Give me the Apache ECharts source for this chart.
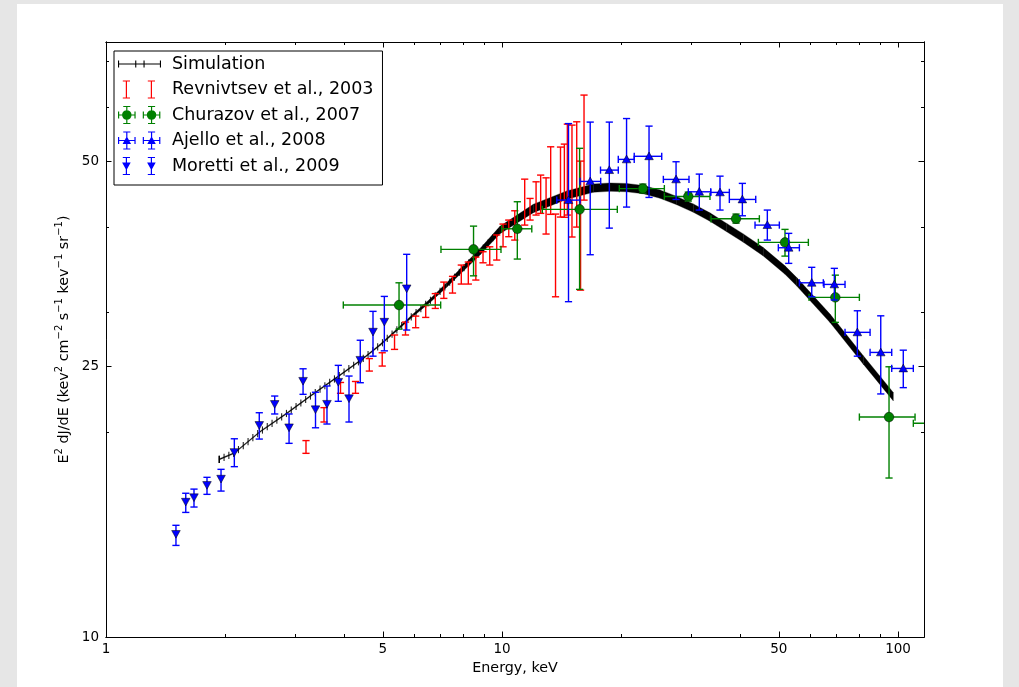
<!DOCTYPE html>
<html><head><meta charset="utf-8">
<script src="https://cdn.jsdelivr.net/npm/echarts@6/dist/echarts.min.js"></script>
<style>
html,body{margin:0;padding:0;background:#e6e6e6;width:1019px;height:687px;overflow:hidden}
#card{position:absolute;left:17px;top:4px;width:986px;height:683px;background:#fff}
#chart{width:986px;height:683px}
</style></head><body><div id="card"><div id="chart"></div></div>
<script>
// ---------------- data ----------------
const xTickMajor = [1, 5, 10, 50, 100];
const xTickMinor = [2, 3, 4, 6, 7, 8, 9, 20, 30, 40, 60, 70, 80, 90];
const xTickLabels = [1, 5, 10, 50, 100];
const yTickMajor = [10, 25, 50];
const yTickMinor = [20, 30, 40, 60, 70];
const yTickLabels = [10, 25, 50];

// Simulation curve
const simE = [1.932, 2.109, 2.448, 2.860, 3.338, 3.898, 4.463, 4.918, 5.422, 5.97, 6.579, 7.25, 7.985, 8.80,
  9.88, 12.0, 14.57, 17.0, 18.74, 20.65, 22.74, 25.06, 27.62, 30.42, 33.5, 36.93, 40.68, 45.68, 51.83, 55.5, 67.34, 81.73, 97.3];
const simF = [18.24, 18.63, 20.02, 21.31, 22.75, 24.25, 25.66, 26.85, 28.24, 29.71, 31.18, 32.88, 34.79, 36.80,
  39.6, 42.6, 44.57, 45.63, 45.79, 45.71, 45.40, 44.72, 43.75, 42.65, 41.38, 39.93, 38.54, 36.80, 34.59, 33.24, 29.38, 25.52, 22.54];

// Revnivtsev et al., 2003 (error bars only)
const revE  = [3.199, 3.552, 3.910, 4.266, 4.623, 4.983, 5.353, 5.705, 6.053, 6.417, 6.785, 7.129, 7.499, 7.892, 8.220, 8.588, 8.955, 9.311, 9.697, 10.06, 10.40, 10.77, 11.41, 11.77, 12.19, 12.52, 12.92, 13.27, 13.65, 14.05, 14.37, 14.62, 15.02, 15.44, 15.79, 16.11];
const revLo = [18.61, 20.69, 22.80, 22.80, 24.58, 25.00, 26.45, 27.77, 28.46, 29.47, 30.38, 31.43, 32.00, 32.99, 32.99, 33.44, 35.45, 35.18, 35.78, 37.42, 38.72, 38.28, 40.27, 40.96, 41.66, 41.90, 39.07, 41.76, 31.60, 41.38, 41.35, 41.66, 38.68, 40.00, 32.32, 43.82];
const revHi = [19.43, 21.72, 23.65, 23.73, 25.64, 26.15, 27.77, 29.01, 29.60, 30.67, 31.94, 33.21, 33.86, 35.18, 35.54, 36.14, 36.80, 37.42, 38.95, 40.41, 40.96, 42.27, 47.04, 44.07, 46.62, 47.69, 47.25, 52.48, 41.80, 52.43, 52.96, 56.66, 56.47, 57.11, 50.00, 62.51];

// Churazov et al., 2007
const chuE   = [5.495, 8.474, 10.93, 15.70, 22.68, 29.54, 38.99, 51.83, 69.45, 94.9, 131.4];
const chuF   = [30.73, 37.10, 39.77, 42.47, 45.56, 44.37, 41.14, 37.98, 31.54, 21.04, 20.60];
const chuElo = [3.974, 7.012, 9.98, 12.64, 19.78, 25.70, 33.71, 44.39, 59.61, 79.87, 109.3];
const chuEhi = [7.00, 9.94, 11.89, 19.55, 25.70, 33.51, 44.65, 59.37, 79.87, 110.4, 150];
const chuFlo = [28.33, 33.92, 35.90, 32.40, 44.87, 43.68, 40.54, 36.26, 28.98, 17.12, 17.6];
const chuFhi = [33.13, 40.13, 43.58, 52.21, 46.26, 45.02, 41.80, 39.69, 34.00, 24.94, 23.6];

// Ajello et al., 2008
const ajeE   = [14.72, 16.70, 18.66, 20.63, 23.51, 27.51, 31.49, 35.52, 40.45, 46.77, 52.96, 60.55, 69.05, 78.94, 90.44, 103.1];
const ajeF   = [43.82, 46.68, 48.50, 50.29, 50.82, 47.00, 45.07, 44.98, 43.92, 40.27, 37.30, 33.13, 32.95, 28.02, 26.18, 24.80];
const ajeElo = [13.75, 15.74, 17.73, 19.66, 21.57, 25.55, 29.54, 33.65, 37.50, 43.54, 49.86, 56.35, 65.03, 73.48, 85.00, 96.40];
const ajeEhi = [15.74, 17.75, 19.66, 21.57, 25.31, 29.66, 33.65, 37.50, 43.72, 50.15, 56.35, 64.76, 73.48, 85.00, 96.40, 109.3];
const ajeFlo = [31.08, 36.43, 39.86, 42.80, 44.22, 43.92, 42.37, 42.37, 41.56, 38.28, 35.38, 31.60, 31.26, 25.85, 22.75, 23.24];
const ajeFhi = [56.76, 57.05, 57.05, 57.74, 56.28, 49.89, 47.85, 47.52, 46.37, 42.37, 39.16, 34.91, 34.79, 30.14, 29.63, 26.38];

// Moretti et al., 2009
const morE   = [1.502, 1.590, 1.668, 1.799, 1.952, 2.109, 2.438, 2.667, 2.899, 3.145, 3.381, 3.614, 3.860, 4.108, 4.386, 4.723, 5.045, 5.745];
const morF   = [14.17, 15.80, 16.04, 16.72, 17.08, 18.69, 20.48, 21.99, 20.32, 23.78, 21.60, 22.00, 23.70, 22.42, 25.53, 28.08, 29.04, 32.51];
const morFlo = [13.63, 15.24, 15.52, 16.20, 16.38, 17.79, 19.53, 21.26, 19.25, 22.72, 20.29, 20.55, 22.19, 20.69, 23.63, 25.85, 26.32, 28.24];
const morFhi = [14.59, 16.26, 16.49, 17.16, 17.63, 19.55, 21.35, 22.59, 21.26, 24.77, 22.88, 23.37, 25.06, 24.17, 27.28, 30.08, 31.64, 36.48];

const X_MIN = 1, X_MAX = 116.3, Y_MIN = 10, Y_MAX = 74.8;

// ---------------- styles ----------------
const RED = '#ff0000', GREEN = '#008000', BLUE = '#0000ff', BLACK = '#000000';
const FONT = 'DejaVu Sans';
const CAP = 3.6, LW = 1.4;

function vbar(children, x, ya, yb, color) {
  const s = {stroke: color, lineWidth: LW};
  children.push({type: 'line', shape: {x1: x, y1: ya, x2: x, y2: yb}, style: s});
  children.push({type: 'line', shape: {x1: x - CAP, y1: ya, x2: x + CAP, y2: ya}, style: s});
  children.push({type: 'line', shape: {x1: x - CAP, y1: yb, x2: x + CAP, y2: yb}, style: s});
}
function hbar(children, y, xa, xb, color) {
  const s = {stroke: color, lineWidth: LW};
  children.push({type: 'line', shape: {x1: xa, y1: y, x2: xb, y2: y}, style: s});
  children.push({type: 'line', shape: {x1: xa, y1: y - CAP, x2: xa, y2: y + CAP}, style: s});
  children.push({type: 'line', shape: {x1: xb, y1: y - CAP, x2: xb, y2: y + CAP}, style: s});
}
function triPts(cx, cy, r, up) {
  const h = r;
  if (up) return [[cx, cy - h], [cx + r, cy + h * 0.8], [cx - r, cy + h * 0.8]];
  return [[cx, cy + h], [cx - r, cy - h * 0.8], [cx + r, cy - h * 0.8]];
}
const markerEdge = {stroke: '#000', lineWidth: 0.5};

// revnivtsev: [E, lo, hi]
function renderRev(params, api) {
  const a = api.coord([api.value(0), api.value(1)]);
  const b = api.coord([api.value(0), api.value(2)]);
  const ch = [];
  vbar(ch, a[0], a[1], b[1], RED);
  return {type: 'group', children: ch};
}
// full error bars: [E, F, Elo, Ehi, Flo, Fhi]
function makeFull(color, marker) {
  return function (params, api) {
    const E = api.value(0), F = api.value(1);
    const p = api.coord([E, F]);
    const ch = [];
    const l = api.coord([api.value(2), F]), r = api.coord([api.value(3), F]);
    const lo = api.coord([E, api.value(4)]), hi = api.coord([E, api.value(5)]);
    hbar(ch, p[1], l[0], r[0], color);
    vbar(ch, p[0], lo[1], hi[1], color);
    if (marker === 'circle') {
      ch.push({type: 'circle', shape: {cx: p[0], cy: p[1], r: 4.8}, style: Object.assign({fill: color}, markerEdge)});
    } else {
      ch.push({type: 'polygon', shape: {points: triPts(p[0], p[1], 4.3, true)}, style: Object.assign({fill: color}, markerEdge)});
    }
    return {type: 'group', children: ch};
  };
}
// moretti: [E, F, Flo, Fhi]
function renderMor(params, api) {
  const E = api.value(0), F = api.value(1);
  const p = api.coord([E, F]);
  const lo = api.coord([E, api.value(2)]), hi = api.coord([E, api.value(3)]);
  const ch = [];
  vbar(ch, p[0], lo[1], hi[1], BLUE);
  ch.push({type: 'polygon', shape: {points: triPts(p[0], p[1], 4.3, false)}, style: Object.assign({fill: BLUE}, markerEdge)});
  return {type: 'group', children: ch};
}
// simulation drawing style: half thickness of the band (px) vs energy (style table)
const bandStyleE = [1, 4.5, 5.5, 6.5, 7.5, 8.5, 10, 12, 200];
const bandStyleH = [0.6, 0.6, 1.0, 1.6, 2.4, 3.1, 3.8, 4.2, 4.2];
function bandHalf(E) {
  const l = Math.log(E);
  for (let k = 0; k < bandStyleE.length - 1; k++) {
    const a = Math.log(bandStyleE[k]), b = Math.log(bandStyleE[k + 1]);
    if (l <= b) return bandStyleH[k] + (bandStyleH[k + 1] - bandStyleH[k]) * (l - a) / (b - a);
  }
  return bandStyleH[bandStyleH.length - 1];
}
const TICK_STEP = 4.8, TICK_EMAX = 9.5;
function renderSim(params, api) {
  const i = params.dataIndex;
  const E = api.value(0);
  const p = api.coord([E, api.value(1)]);
  const ch = [];
  if (i === 0) {
    ch.push({type: 'line', shape: {x1: p[0], y1: p[1] - 3.6, x2: p[0], y2: p[1] + 3.6}, style: {stroke: BLACK, lineWidth: 1.4}});
  }
  if (i + 1 < simE.length) {
    const q = api.coord([simE[i + 1], simF[i + 1]]);
    const h1 = bandHalf(E), h2 = bandHalf(simE[i + 1]);
    ch.push({type: 'polygon', shape: {points: [[p[0], p[1] - h1], [q[0], q[1] - h2], [q[0], q[1] + h2], [p[0], p[1] + h1]]},
      style: {fill: BLACK, stroke: BLACK, lineWidth: 0.3}});
    if (E < TICK_EMAX) {
      const x0 = api.coord([simE[0], simF[0]])[0];
      let k = Math.ceil((p[0] - x0) / TICK_STEP);
      for (let x = x0 + k * TICK_STEP; x < q[0]; x += TICK_STEP) {
        const t = (x - p[0]) / (q[0] - p[0]);
        const y = p[1] + t * (q[1] - p[1]);
        ch.push({type: 'line', shape: {x1: x, y1: y - 3.6, x2: x, y2: y + 3.6}, style: {stroke: BLACK, lineWidth: 1.1, opacity: 0.85}});
      }
    }
  }
  return {type: 'group', children: ch};
}

// ---------------- legend icons (paths) ----------------
const IW = 49, IH = 19;
function rect(x, y, w, h) { return `M${x} ${y}L${x + w} ${y}L${x + w} ${y + h}L${x} ${y + h}Z`; }
function circ(cx, cy, r) { return `M${cx - r} ${cy}A${r} ${r} 0 1 1 ${cx + r} ${cy}A${r} ${r} 0 1 1 ${cx - r} ${cy}Z`; }
function tri(cx, cy, r, up) { const p = triPts(cx, cy, r, up); return `M${p[0][0]} ${p[0][1]}L${p[1][0]} ${p[1][1]}L${p[2][0]} ${p[2][1]}Z`; }
const frame = `M0 0Z M${IW} ${IH}Z `;
function iconV(cx) { return rect(cx - 0.6, 1, 1.2, 17) + rect(cx - 3.6, 0.4, 7.2, 1.2) + rect(cx - 3.6, 17.4, 7.2, 1.2); }
function iconH(cx) { return rect(cx - 8.4, 8.9, 16.8, 1.2) + rect(cx - 8.9, 6, 1.2, 7) + rect(cx + 7.7, 6, 1.2, 7); }
const iconSim = 'path://' + frame + rect(0, 9, 43, 1.1) + rect(0, 6, 1.1, 7) + rect(17.2, 6, 1.1, 7) + rect(25.5, 6, 1.1, 7) + rect(41.9, 6, 1.1, 7);
const iconRev = 'path://' + frame + iconV(8.4) + iconV(33.4);
const iconChu = 'path://' + frame + iconV(8.4) + iconV(33.4) + iconH(8.4) + iconH(33.4) + circ(8.4, 9.5, 4.8) + circ(33.4, 9.5, 4.8);
const iconAje = 'path://' + frame + iconV(8.4) + iconV(33.4) + iconH(8.4) + iconH(33.4) + tri(8.4, 9.5, 4.3, true) + tri(33.4, 9.5, 4.3, true);
const iconMor = 'path://' + frame + iconV(8.4) + iconV(33.4) + tri(8.4, 9.5, 4.3, false) + tri(33.4, 9.5, 4.3, false);

// ---------------- axes ----------------
const axisLineStyle = {show: true, lineStyle: {color: '#000', width: 1}};
function xAx(pos, ticks, len, labels, extra) {
  return Object.assign({
    type: 'log', logBase: 10, min: X_MIN, max: X_MAX, position: pos, gridIndex: 0,
    axisLine: axisLineStyle, splitLine: {show: false},
    axisTick: {show: true, inside: true, length: len, customValues: ticks, lineStyle: {color: '#000', width: 1}},
    axisLabel: labels ? {show: true, customValues: labels, margin: 5, color: '#000', fontFamily: FONT, fontSize: 13.5,
      formatter: v => String(Math.round(v))} : {show: false}
  }, extra || {});
}
function yAx(pos, ticks, len, labels, extra) {
  return Object.assign({
    type: 'log', logBase: 10, min: Y_MIN, max: Y_MAX, position: pos, gridIndex: 0,
    axisLine: axisLineStyle, splitLine: {show: false},
    axisTick: {show: true, inside: true, length: len, customValues: ticks, lineStyle: {color: '#000', width: 1}},
    axisLabel: labels ? {show: true, customValues: labels, margin: 7, color: '#000', fontFamily: FONT, fontSize: 13.5,
      formatter: v => String(Math.round(v))} : {show: false}
  }, extra || {});
}
const yName = '{b|E}{s|2}{b| dJ/dE (kev}{s|2}{b| cm}{s|\u22122}{b| s}{s|\u22121}{b| kev}{s|\u22121}{b| sr}{s|\u22121}{b|)}';

const chart = echarts.init(document.getElementById('chart'), null, {renderer: 'canvas'});
const option = {
  animation: false,
  backgroundColor: '#ffffff',
  grid: {left: 89, top: 38, width: 818, height: 595, containLabel: false},
  legend: {
    orient: 'vertical', left: 97, top: 47,
    padding: [3.5, 9, 9.5, 4], itemGap: 6.5,
    itemWidth: IW, itemHeight: IH, symbolKeepAspect: false,
    backgroundColor: '#fff', borderColor: '#000', borderWidth: 1, borderRadius: 0,
    textStyle: {fontFamily: FONT, fontSize: 17.5, lineHeight: 19, color: '#000'},
    itemStyle: {borderWidth: 0},
    selectedMode: false,
    data: [
      {name: 'Simulation', icon: iconSim},
      {name: 'Revnivtsev et al., 2003', icon: iconRev},
      {name: 'Churazov et al., 2007', icon: iconChu},
      {name: 'Ajello et al., 2008', icon: iconAje},
      {name: 'Moretti et al., 2009', icon: iconMor}
    ]
  },
  xAxis: [
    xAx('bottom', xTickMajor, 5.5, xTickLabels, {name: 'Energy, keV', nameLocation: 'middle', nameGap: 20,
      nameTextStyle: {fontFamily: FONT, fontSize: 14.3, color: '#000'}}),
    xAx('top', xTickMajor, 5.5, null),
    xAx('bottom', xTickMinor, 3, null),
    xAx('top', xTickMinor, 3, null)
  ],
  yAxis: [
    yAx('left', yTickMajor, 5.5, yTickLabels, {name: yName, nameLocation: 'middle', nameGap: 29, nameRotate: 90,
      nameTextStyle: {fontFamily: FONT, color: '#000', rich: {
        b: {fontFamily: FONT, fontSize: 14.3, lineHeight: 20, color: '#000'},
        s: {fontFamily: FONT, fontSize: 10, lineHeight: 10, verticalAlign: 'top', color: '#000'}
      }}}),
    yAx('right', yTickMajor, 5.5, null),
    yAx('left', yTickMinor, 3, null),
    yAx('right', yTickMinor, 3, null)
  ],
  series: [
    {name: 'Simulation', type: 'custom', renderItem: renderSim, clip: true, z: 2,
      itemStyle: {color: BLACK}, encode: {x: 0, y: 1},
      data: simE.map((e, i) => [e, simF[i]])},
    {name: 'Revnivtsev et al., 2003', type: 'custom', renderItem: renderRev, clip: true, z: 3,
      itemStyle: {color: RED}, encode: {x: 0, y: [1, 2]},
      data: revE.map((e, i) => [e, revLo[i], revHi[i]])},
    {name: 'Churazov et al., 2007', type: 'custom', renderItem: makeFull(GREEN, 'circle'), clip: true, z: 4,
      itemStyle: {color: GREEN}, encode: {x: [0, 2, 3], y: [1, 4, 5]},
      data: chuE.map((e, i) => [e, chuF[i], chuElo[i], chuEhi[i], chuFlo[i], chuFhi[i]])},
    {name: 'Ajello et al., 2008', type: 'custom', renderItem: makeFull(BLUE, 'tri'), clip: true, z: 5,
      itemStyle: {color: BLUE}, encode: {x: [0, 2, 3], y: [1, 4, 5]},
      data: ajeE.map((e, i) => [e, ajeF[i], ajeElo[i], ajeEhi[i], ajeFlo[i], ajeFhi[i]])},
    {name: 'Moretti et al., 2009', type: 'custom', renderItem: renderMor, clip: true, z: 6,
      itemStyle: {color: BLUE}, encode: {x: 0, y: [1, 2, 3]},
      data: morE.map((e, i) => [e, morF[i], morFlo[i], morFhi[i]])}
  ]
};
chart.setOption(option);
</script></body></html>
